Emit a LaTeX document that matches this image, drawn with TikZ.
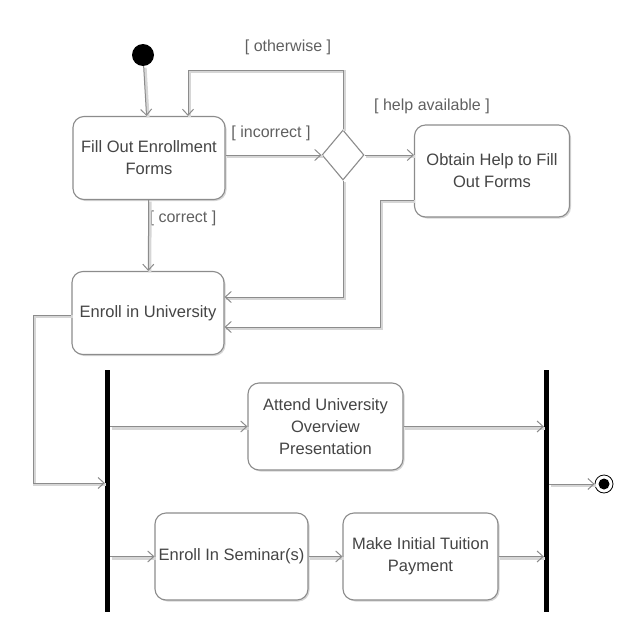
\documentclass[tikz,border=0pt]{standalone}
\usepackage{fontspec}
\setmainfont{Liberation Sans}
\usetikzlibrary{arrows.meta,shapes.geometric,shadows}
\definecolor{linec}{HTML}{8C8C8C}
\definecolor{shadc}{HTML}{D6D6D6}
\definecolor{txtc}{HTML}{454545}
\definecolor{guardc}{HTML}{606060}
\begin{document}
\begin{tikzpicture}[x=1pt,y=-1pt,
  actbox/.style={draw=linec, line width=1.1pt, fill=white, rounded corners=11pt,
    minimum width=#1, align=center, text=txtc, font=\fontsize{16.5}{22}\selectfont,
    inner xsep=2pt,
    drop shadow={shadow xshift=1.5pt, shadow yshift=-1.5pt, fill=shadc, opacity=1}},
  bar/.style={fill=black, draw=none, minimum width=5pt, minimum height=242pt, inner sep=0pt},
  conn/.style={draw=linec, line width=1pt,
    -{Straight Barb[length=6pt,width=11pt,line width=1pt]},
    preaction={draw=shadc, line width=3pt, -, transform canvas={shift={(1.5pt,-1.5pt)}}}},
  guard/.style={text=guardc, font=\fontsize{16}{18}\selectfont, inner sep=1pt}
]
\useasboundingbox (0,0) rectangle (640,640);

% nodes
\node[circle, fill=black, minimum size=22pt, inner sep=0pt] (init) at (143,55) {};
\node[actbox=152pt, minimum height=83pt] (fill) at (149,158) {Fill Out Enrollment\\Forms};
\node[diamond, draw=linec, line width=1.1pt, fill=white, minimum width=42pt, minimum height=50pt, inner sep=0pt] (dia) at (343,155) {};
\node[actbox=155pt, minimum height=92pt] (help) at (492,171) {Obtain Help to Fill\\Out Forms};
\node[actbox=152pt, minimum height=83pt] (enroll) at (148,313) {Enroll in University};
\node[bar] (fork) at (107.5,491) {};
\node[actbox=155pt, minimum height=87pt] (attend) at (325.5,426.5) {Attend University\\Overview\\Presentation};
\node[actbox=153pt, minimum height=87pt] (seminar) at (231.5,556.5) {Enroll In Seminar(s)};
\node[actbox=155pt, minimum height=87pt] (pay) at (420.5,556.5) {Make Initial Tuition\\Payment};
\node[bar] (join) at (546.5,491) {};
\node[circle, draw=black, line width=0.8pt, fill=white, minimum size=18pt, inner sep=0pt] (final) at (604,484) {};
\node[circle, fill=black, minimum size=11pt, inner sep=0pt] (finalin) at (604,484) {};

% guards
\node[guard] (gother) at (288,47) {[ otherwise ]};
\node[guard] (gincor) at (271,133) {[ incorrect ]};
\node[guard] (gcorr) at (183,218) {[ correct ]};
\node[guard] (ghelp) at (432,106) {[ help available ]};

% helper coordinates
\coordinate (loopR) at (343,70);
\coordinate (loopL) at (188,70);
\coordinate (d1) at (343,297);
\coordinate (h1) at (380,200);
\coordinate (h2) at (380,327);
\coordinate (e1) at (33,315);
\coordinate (e2) at (33,483);

% connectors
\draw[conn] (init) -- (fill);
\draw[conn] (fill) -- (enroll);
\draw[conn] (fill.east |- dia.west) -- (dia.west);
\draw[conn] (dia.east) -- (dia.east -| help.west);
\draw[conn] (dia.north) -- (loopR) -- (loopL) -- (loopL |- fill.north);
\draw[conn] (dia.south) -- (d1) -- (d1 -| enroll.east);
\draw[conn] (h1 -| help.west) -- (h1) -- (h2) -- (h2 -| enroll.east);
\draw[conn] (e1 -| enroll.west) -- (e1) -- (e2) -- (e2 -| fork.west);
\draw[conn] (fork.east |- attend.west) -- (attend.west);
\draw[conn] (fork.east |- seminar.west) -- (seminar.west);
\draw[conn] (seminar.east) -- (pay.west);
\draw[conn] (attend.east) -- (attend.east -| join.west);
\draw[conn] (pay.east) -- (pay.east -| join.west);
\draw[conn] (join.east |- final.west) -- (final.west);
\end{tikzpicture}
\end{document}
